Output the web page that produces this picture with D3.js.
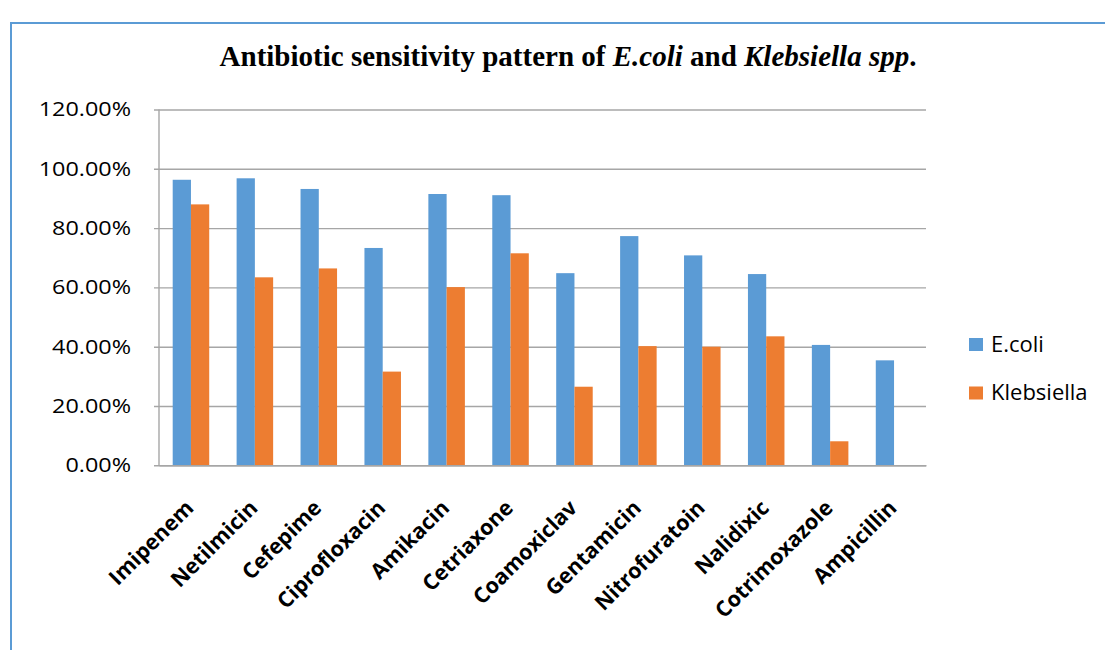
<!DOCTYPE html>
<html>
<head>
<meta charset="utf-8">
<script src="https://cdn.jsdelivr.net/npm/d3@7"></script>
<style>
  html, body { margin: 0; padding: 0; background: #fff; }
  svg { display: block; }
</style>
</head>
<body>
<svg id="chart" width="1105" height="650"></svg>
<script>
// Antibiotic names (x categories)
const antibiotics = ["Imipenem", "Netilmicin", "Cefepime", "Ciprofloxacin", "Amikacin",
  "Cetriaxone", "Coamoxiclav", "Gentamicin", "Nitrofuratoin", "Nalidixic",
  "Cotrimoxazole", "Ampicillin"];

// Percentage of sensitive isolates per antibiotic
const ecoliValues = [96.3, 96.8, 93.2, 73.3, 91.5, 91.1, 64.8, 77.3, 70.8, 64.5, 40.6, 35.4];
const klebsiellaValues = [88.0, 63.4, 66.4, 31.6, 60.1, 71.5, 26.5, 40.2, 40.0, 43.5, 8.1, 0];

const seriesNames = ["E.coli", "Klebsiella"];
const seriesColors = ["#5B9BD5", "#ED7D31"];
const yTicks = [0, 20, 40, 60, 80, 100, 120];

const svg = d3.select("#chart");

// outer frame (left and top edges)
svg.append("path")
  .attr("d", "M11,650 L11,23 L1105,23")
  .attr("fill", "none")
  .attr("stroke", "#5B9BD5")
  .attr("stroke-width", 2);

const plot = { left: 159, right: 926, top: 109.5, bottom: 465.3 };

const x = d3.scaleBand()
  .domain(antibiotics)
  .range([plot.left, plot.right])
  .paddingInner(0.4286)
  .paddingOuter(0.2143);

const x1 = d3.scaleBand()
  .domain(seriesNames)
  .range([0, x.bandwidth()]);

const y = d3.scaleLinear()
  .domain([0, 120])
  .range([plot.bottom, plot.top]);

// horizontal gridlines with outward ticks
const yAxis = d3.axisLeft(y)
  .tickValues(yTicks)
  .tickSize(-(plot.right - plot.left))
  .tickFormat(d => d.toFixed(2) + "%")
  .tickPadding(0);

const yg = svg.append("g")
  .attr("transform", `translate(${plot.left},0)`)
  .call(yAxis);
yg.select(".domain").remove();
yg.selectAll(".tick line")
  .attr("x1", -5)
  .attr("stroke", "#a6a6a6")
  .attr("stroke-width", 1.4);
const yLabelStretch = 1.17;
yg.selectAll(".tick text")
  .attr("font-family", "'Open Sans', sans-serif")
  .attr("font-size", 20)
  .attr("fill", "#000")
  .attr("x", -28 / yLabelStretch)
  .attr("transform", `scale(${yLabelStretch},1)`);

// vertical axis line
svg.append("line")
  .attr("x1", plot.left).attr("x2", plot.left)
  .attr("y1", plot.top).attr("y2", plot.bottom)
  .attr("stroke", "#a6a6a6")
  .attr("stroke-width", 1.4);

// bars
const rows = antibiotics.map((name, i) => ({
  name,
  values: [ecoliValues[i], klebsiellaValues[i]]
}));

const groups = svg.append("g")
  .selectAll("g")
  .data(rows)
  .join("g")
  .attr("transform", d => `translate(${x(d.name)},0)`);

groups.selectAll("rect")
  .data(d => d.values.map((v, j) => ({ key: seriesNames[j], v, j })))
  .join("rect")
  .attr("x", d => x1(d.key))
  .attr("width", x1.bandwidth())
  .attr("y", d => y(d.v))
  .attr("height", d => plot.bottom - y(d.v))
  .attr("fill", d => seriesColors[d.j]);

// category axis
const xAxis = d3.axisBottom(x).tickSize(0).tickPadding(0);
const xg = svg.append("g")
  .attr("transform", `translate(0,${plot.bottom})`)
  .call(xAxis);
xg.select(".domain")
  .attr("stroke", "#a6a6a6")
  .attr("stroke-width", 1.6);
xg.selectAll(".tick text")
  .attr("font-family", "'Open Sans', sans-serif")
  .attr("font-weight", "bold")
  .attr("font-size", 21.5)
  .attr("fill", "#000")
  .attr("text-anchor", "end")
  .attr("dy", 0)
  .attr("transform", "translate(4,44) rotate(-45)");

// title
const title = svg.append("text")
  .attr("x", 568)
  .attr("y", 66)
  .attr("text-anchor", "middle")
  .attr("font-family", "'Liberation Serif', 'Times New Roman', serif")
  .attr("font-weight", "bold")
  .attr("font-size", 29)
  .attr("fill", "#000");
title.append("tspan").text("Antibiotic sensitivity pattern of ");
title.append("tspan").attr("font-style", "italic").text("E.coli");
title.append("tspan").text(" and ");
title.append("tspan").attr("font-style", "italic").text("Klebsiella spp");
title.append("tspan").text(".");

// legend
const legend = svg.append("g")
  .selectAll("g")
  .data(seriesNames)
  .join("g")
  .attr("transform", (d, i) => `translate(969,${338 + i * 48.5})`);
legend.append("rect")
  .attr("width", 14)
  .attr("height", 13)
  .attr("fill", (d, i) => seriesColors[i]);
legend.append("text")
  .attr("x", 22)
  .attr("y", 13.5)
  .attr("font-family", "'Open Sans', sans-serif")
  .attr("font-size", 22)
  .attr("fill", "#000")
  .text(d => d);
</script>
</body>
</html>
